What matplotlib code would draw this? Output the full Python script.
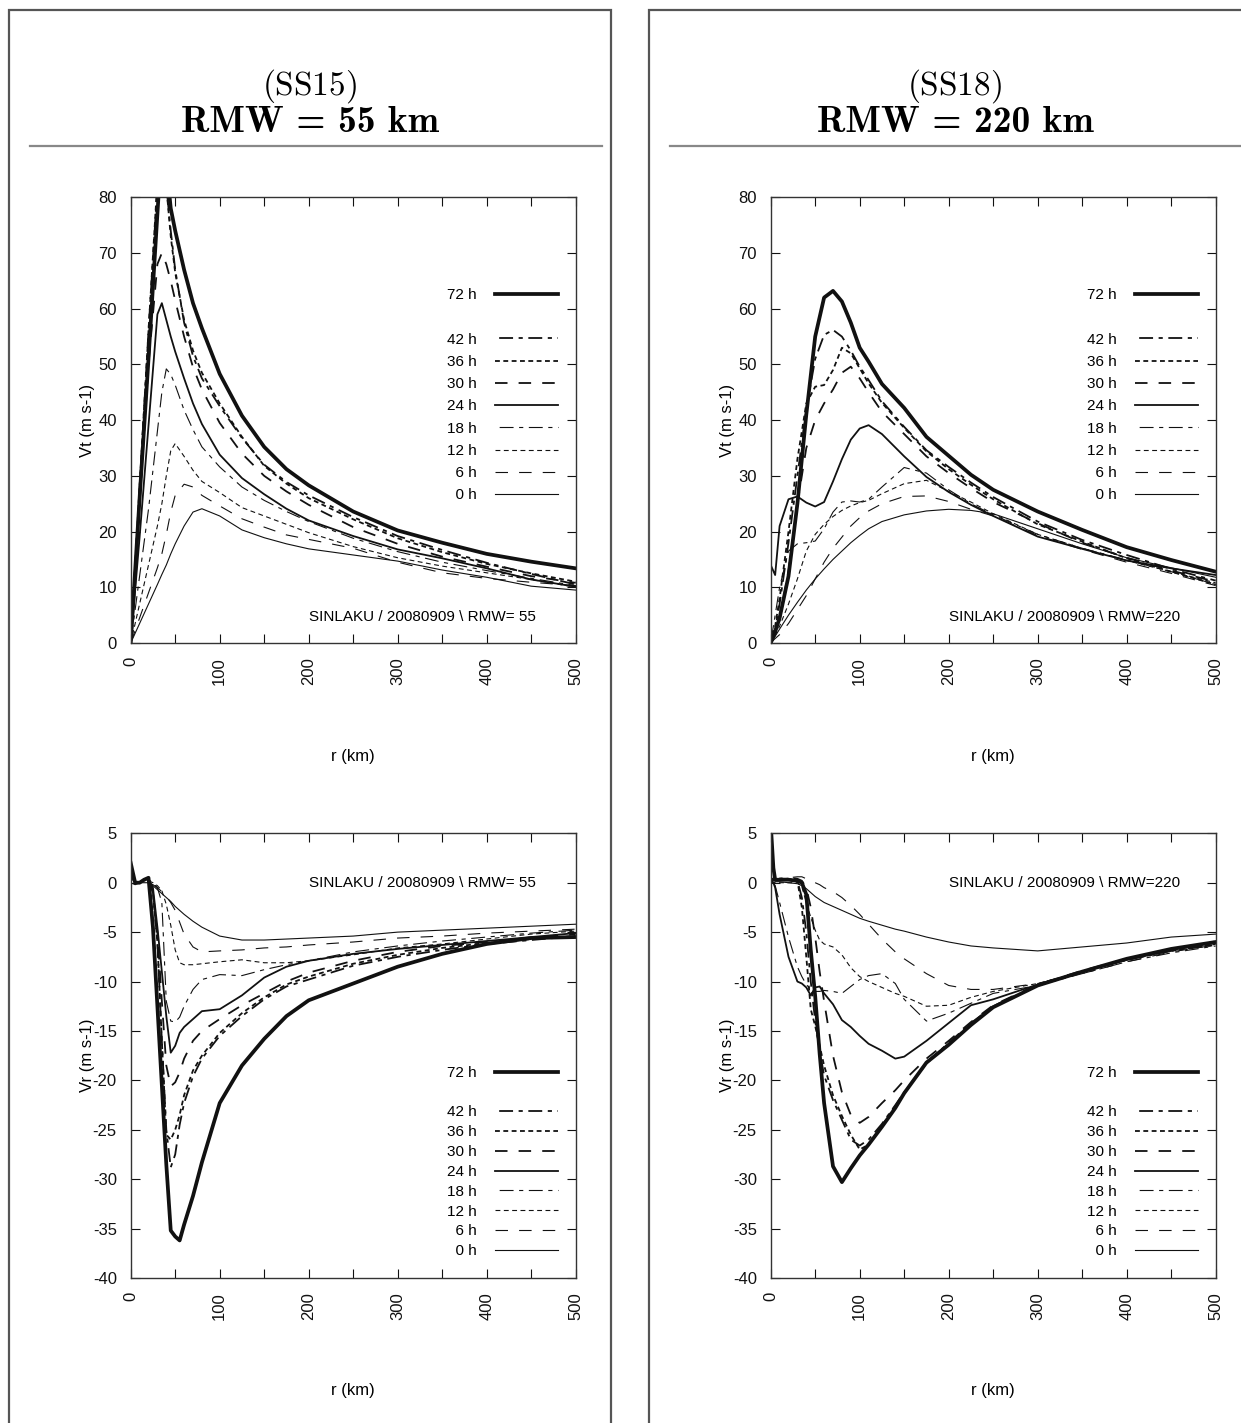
import matplotlib
matplotlib.use('Agg')
import matplotlib.pyplot as plt
from matplotlib.lines import Line2D
from matplotlib.patches import Rectangle

plt.rcParams['font.family'] = ['Liberation Sans', 'DejaVu Sans']
plt.rcParams['mathtext.fontset'] = 'cm'
plt.rcParams['lines.scale_dashes'] = False
plt.rcParams['axes.unicode_minus'] = False

# ---- data ----
hours = ['72', '42', '36', '30', '24', '18', '12', '6', '0']
xtick_vals = [0, 50, 100, 150, 200, 250, 300, 350, 400, 450, 500]
xtick_labels = ['0', '', '100', '', '200', '', '300', '', '400', '', '500']

# SS15, Vt
r_vt15 = [0, 10, 20, 30, 35, 40, 45, 50, 60, 70, 80, 100, 125, 150, 175, 200, 250, 300, 350, 400, 450, 500]
vt15_72 = [0, 26, 51, 77, 90, 86, 78, 74, 67, 61, 56.5, 48.3, 40.8, 35.2, 31.2, 28.3, 23.6, 20.2, 18.0, 16.0, 14.6, 13.4]
vt15_42 = [0, 28, 56, 82, 90, 82, 74, 67, 57.5, 51.5, 47.5, 42.5, 36.8, 32.0, 28.9, 26.5, 22.6, 19.2, 16.7, 14.4, 12.4, 10.5]
vt15_36 = [0, 28, 56, 83, 92, 82, 73, 66.5, 58, 52.5, 48.5, 43, 37, 31.8, 28.6, 26.0, 22.2, 18.8, 16.3, 14.2, 12.5, 11.0]
vt15_30 = [0, 25, 50, 68, 70, 68, 65, 61.5, 55, 49.5, 45.5, 39.5, 34, 30, 27.2, 24.8, 20.8, 17.8, 15.5, 13.7, 12.0, 10.8]
vt15_24 = [0, 19, 39, 59, 61, 58, 55, 52.3, 47.5, 43, 39.3, 33.8, 29.6, 26.7, 24.1, 22.0, 19.2, 16.8, 15.2, 13.4, 11.4, 10.1]
vt15_18 = [0, 12, 24, 38, 45, 49.2, 48.2, 46.3, 41.8, 38.3, 35.2, 31.6, 28.0, 25.6, 23.6, 21.8, 18.8, 16.4, 14.5, 13.0, 11.6, 10.3]
vt15_12 = [0, 7, 14, 21, 25, 30, 34.5, 35.8, 33.5, 31, 29, 27, 24.3, 22.8, 21.3, 19.8, 17.3, 15.3, 13.8, 12.6, 11.4, 10.0]
vt15_06 = [0, 4.5, 9, 13.5, 16, 19.5, 23.5, 26.5, 28.5, 28, 26.5, 24.6, 22.3, 20.8, 19.4, 18.6, 17.0, 14.5, 12.6, 11.6, 10.9, 10.3]
vt15_00 = [0, 3.5, 7, 10.5, 12.3, 14, 16, 17.8, 21, 23.5, 24.1, 22.8, 20.3, 18.9, 17.8, 16.9, 15.8, 14.7, 13.1, 11.8, 10.2, 9.5]

# SS18, Vt
r_vt18 = [0, 5, 10, 20, 30, 40, 50, 60, 70, 80, 90, 100, 110, 125, 150, 175, 200, 225, 250, 300, 350, 400, 450, 500]
vt18_72 = [0, 2, 4.5, 12, 25, 41, 55, 62, 63.2, 61.3, 57.5, 53, 50.5, 46.5, 42.2, 37, 33.6, 30.2, 27.5, 23.6, 20.3, 17.2, 14.9, 12.8]
vt18_42 = [0, 2.5, 7, 18, 30, 42, 51, 55.3, 56.2, 55, 52.5, 49.6, 47.2, 43.4, 38.8, 34.6, 31.6, 28.8, 26.2, 21.8, 18.5, 15.8, 13.3, 11.2]
vt18_36 = [0, 3, 8, 20, 33, 43, 46, 46.3, 49, 53, 52, 49.3, 46.6, 43.1, 38.6, 34.4, 31.2, 28.4, 25.8, 21.3, 18.2, 15.2, 12.8, 10.5]
vt18_30 = [0, 1.5, 4, 13, 25, 35, 40, 43, 45.5, 48.5, 49.6, 47.5, 45, 41.5, 37.5, 33.5, 30.5, 27.8, 25.3, 21.5, 18.0, 15.3, 13.0, 11.0]
vt18_24 = [14, 12.2, 21, 25.8, 26.3, 25.2, 24.5, 25.3, 29, 33, 36.5, 38.5, 39.1, 37.5, 33.5, 29.8, 27.1, 24.8, 22.8, 19.1, 16.9, 14.8, 13.4, 12.2]
vt18_18 = [0, 5, 10, 16.5, 17.8, 18, 18.3, 20.5, 23.5, 25.3, 25.5, 25.3, 25.8, 28, 31.5, 30.5, 27.5, 25, 23, 19.5, 17, 14.9, 12.8, 10.5]
vt18_12 = [0, 1.5, 3, 7, 11.5, 16.5, 19.5, 21.3, 22.7, 23.8, 24.6, 25.2, 25.6, 26.8, 28.6, 29.2, 27.2, 25.3, 23.2, 19.5, 17.0, 14.8, 12.8, 10.8]
vt18_06 = [0, 0.8, 1.5, 3.5, 6, 8.5, 11.5, 14.5, 17, 19, 21, 22.5, 23.7, 25, 26.3, 26.4, 25.4, 24, 22.8, 19.3, 16.8, 14.5, 12.5, 10.3]
vt18_00 = [0, 1.2, 2.5, 5, 7.3, 9.5, 11.5, 13.3, 15, 16.5, 18, 19.3, 20.5, 21.8, 23, 23.7, 24, 23.8, 23.2, 20.5, 17.8, 15.3, 13.5, 11.8]

# SS15, Vr
r_vr15 = [0, 5, 10, 15, 20, 25, 30, 35, 40, 45, 50, 55, 60, 70, 80, 100, 125, 150, 175, 200, 250, 300, 350, 400, 450, 500]
vr15_72 = [2, 0, 0, 0.3, 0.5, -4.5, -12.5, -20.5, -28.5, -35.2, -35.8, -36.2, -34.6, -31.7, -28.3, -22.3, -18.5, -15.8, -13.5, -11.9, -10.2, -8.5, -7.2, -6.2, -5.6, -5.5]
vr15_42 = [1, 0, 0, 0.3, 0.4, -1, -6, -16, -25, -28.8, -27.5, -24.5, -22.3, -19.6, -17.8, -15.5, -13.5, -11.8, -10.5, -9.8, -8.4, -7.5, -6.8, -6.2, -5.8, -5.4]
vr15_36 = [1, 0, 0, 0.3, 0.4, -1, -6, -16, -25.5, -26, -25, -23.5, -21.5, -19, -17.5, -15.2, -13.2, -11.6, -10.3, -9.5, -8.2, -7.3, -6.6, -6.1, -5.7, -5.4]
vr15_30 = [1, 0, 0, 0.3, 0.4, -1, -5, -12, -18.5, -20.6, -20.2, -19.2, -17.8, -16.0, -15.0, -13.8, -12.4, -11.2, -10.0, -9.1, -7.9, -7.0, -6.4, -6.0, -5.6, -5.2]
vr15_24 = [1.5, 0, 0, 0.3, 0.4, -0.5, -4.5, -9, -13.5, -17.2, -16.5, -15.2, -14.6, -13.8, -13.0, -12.8, -11.4, -9.6, -8.5, -7.9, -7.2, -6.7, -6.3, -5.9, -5.5, -5.1]
vr15_18 = [1, 0, 0, 0.2, 0.3, 0, -0.5, -2, -12, -14, -14.1, -13.6, -12.5, -10.8, -9.8, -9.3, -9.4, -8.8, -8.3, -7.9, -7.0, -6.4, -5.9, -5.5, -5.1, -4.8]
vr15_12 = [1, 0, 0, 0.2, 0.2, 0, -0.3, -0.8, -2.2, -4.3, -6.8, -8.1, -8.3, -8.3, -8.2, -8.0, -7.8, -8.1, -8.1, -7.9, -7.3, -6.6, -6.2, -5.7, -5.2, -4.9]
vr15_06 = [0.5, 0, 0, 0.2, 0, -0.2, -0.5, -0.9, -1.4, -2.0, -2.8, -4.0, -5.2, -6.5, -7.0, -6.9, -6.8, -6.6, -6.5, -6.3, -6.0, -5.6, -5.4, -5.1, -4.9, -4.7]
vr15_00 = [0, -0.2, 0, 0, 0, -0.3, -0.7, -1.1, -1.5, -1.9, -2.4, -2.8, -3.2, -3.9, -4.5, -5.4, -5.8, -5.8, -5.7, -5.6, -5.4, -5.0, -4.8, -4.6, -4.4, -4.2]

# SS18, Vr
r_vr18 = [0, 3, 5, 10, 20, 30, 35, 40, 45, 50, 55, 60, 70, 80, 90, 100, 110, 125, 140, 150, 175, 200, 225, 250, 300, 350, 400, 450, 500]
vr18_72 = [6, 1.5, 0.3, 0.3, 0.3, 0.2, 0, -1.2, -6.8, -11.5, -17.3, -22.3, -28.7, -30.3, -28.9, -27.6, -26.5, -24.7, -22.8, -21.3, -18.2, -16.4, -14.4, -12.6, -10.4, -9.0, -7.7, -6.7, -6.0]
vr18_42 = [0.5, 0.3, 0.3, 0.4, 0.4, 0.2, -1.5, -5, -10, -14, -17, -19.5, -22, -24, -26, -26.6, -26, -24.4, -22.5, -21.2, -18.2, -16.2, -14.2, -12.5, -10.4, -9.0, -7.8, -6.9, -6.3]
vr18_36 = [0.5, 0.3, 0.3, 0.4, 0.4, 0.2, -2.5, -7.5, -12.8, -14.5, -16.5, -18.5, -21.5, -23.6, -25.5, -27.0, -26.5, -24.6, -22.6, -21.3, -18.3, -16.3, -14.3, -12.5, -10.4, -9.0, -7.8, -6.9, -6.2]
vr18_30 = [0.5, 0.3, 0.3, 0.4, 0.5, 0.4, 0.2, -0.5, -2.5, -5.5, -9, -12, -17.5, -21.2, -23.5, -24.3, -23.7, -22.3, -21.0, -20.0, -17.8, -16.0, -14.1, -12.4, -10.3, -8.9, -7.7, -6.8, -6.1]
vr18_24 = [0.5, 0, -0.5, -3.2, -7.5, -10, -10.2, -10.6, -11.4, -10.6, -10.5, -11.2, -12.3, -13.9, -14.6, -15.5, -16.3, -17.0, -17.8, -17.6, -16.0, -14.2, -12.4, -11.8, -10.3, -9.0, -7.8, -6.8, -6.0]
vr18_18 = [0, 0, -0.3, -2, -5.5, -8.5, -9.5, -10.3, -10.8, -11, -11, -10.9, -11, -11.2, -10.5, -9.8, -9.4, -9.2, -10.2, -11.8, -14.0, -13.2, -12.2, -11.2, -10.4, -9.2, -8.0, -7.1, -6.4]
vr18_12 = [0, 0, 0, 0, 0, 0, -0.4, -2.0, -3.5, -4.8, -5.8, -6.2, -6.5, -7.3, -8.6, -9.5, -10.0, -10.6, -11.2, -11.5, -12.5, -12.4, -11.6, -11.0, -10.2, -9.0, -7.8, -6.8, -5.9]
vr18_06 = [0, 0.3, 0.3, 0.4, 0.5, 0.6, 0.6, 0.4, 0.2, 0, -0.2, -0.5, -0.9, -1.5, -2.3, -3.2, -4.2, -5.7, -7.0, -7.7, -9.2, -10.4, -10.8, -10.8, -10.2, -9.2, -8.0, -7.0, -6.3]
vr18_00 = [0, 0, 0.1, 0.1, 0, -0.1, -0.3, -0.6, -1.0, -1.4, -1.7, -2.0, -2.4, -2.8, -3.2, -3.6, -3.9, -4.3, -4.7, -4.9, -5.5, -6.0, -6.4, -6.6, -6.9, -6.5, -6.1, -5.5, -5.2]

# ---- line styles per forecast hour ----
thin, mid, thick = 0.8, 1.3, 2.7
long_dash = (0, (9, 8))
short_dash = (0, (3.5, 2.5))
dash_dot = (4, (3, 4, 10, 4))
style = {
    '0': ('-', thin), '6': (long_dash, thin), '12': (short_dash, thin), '18': (dash_dot, thin),
    '24': ('-', mid), '30': (long_dash, mid), '36': (short_dash, mid), '42': (dash_dot, mid),
    '72': ('-', thick),
}

W, H = 1241, 1423
fig = plt.figure(figsize=(W / 100, H / 100), dpi=100)


def px_axes(x0, y0, x1, y1):
    return fig.add_axes([x0 / W, 1 - y1 / H, (x1 - x0) / W, (y1 - y0) / H])


def panel(ax, r, series, ylim, ystep, ylabel, tag, tag_y, leg_top, leg_spacing):
    handles = {}
    for h, v in zip(hours, series):
        ls, lw = style[h]
        ln, = ax.plot(r, v, color='#111111', linestyle=ls, linewidth=lw,
                      solid_joinstyle='round', dash_joinstyle='round')
        handles[h] = ln
    ax.set_xlim(0, 500)
    ax.set_ylim(*ylim)
    ax.set_xticks(xtick_vals)
    ax.set_xticklabels(xtick_labels, rotation=90)
    ax.set_yticks(range(ylim[0], ylim[1] + 1, ystep))
    ax.tick_params(direction='in', length=6.5, width=0.8, top=True, right=True,
                   labelsize=12, pad=10, colors='#111111')
    for s in ax.spines.values():
        s.set_linewidth(1.0)
        s.set_color('#333333')
    ax.set_xlabel('r (km)', fontsize=12)
    ax.set_ylabel(ylabel, fontsize=12)
    ax.xaxis.set_label_coords(0.5, -0.237)
    ax.yaxis.set_label_coords(-0.081, 0.5)
    ax.text(0.40, tag_y, tag, transform=ax.transAxes, fontsize=11, va='center', ha='left')

    blank = Line2D([], [], linestyle='none')
    hl = [handles['72'], blank] + [handles[h] for h in hours[1:]]
    labels = ['72 h', ''] + ['%s h' % h if len(h) == 2 else '\u2007%s h' % h for h in hours[1:]]
    ax.legend(hl, labels, loc='upper right', bbox_to_anchor=(0.96, leg_top), frameon=False,
              markerfirst=False, handlelength=4.13, handletextpad=1.18, borderpad=0,
              borderaxespad=0, labelspacing=leg_spacing, fontsize=11)


ax1 = px_axes(130.7, 197.3, 575.7, 643)
panel(ax1, r_vt15, [vt15_72, vt15_42, vt15_36, vt15_30, vt15_24, vt15_18, vt15_12, vt15_06, vt15_00],
      (0, 80), 10, 'Vt (m s-1)', 'SINLAKU / 20080909 \\ RMW= 55', 0.059, 0.796, 0.54)
ax2 = px_axes(770.7, 197.3, 1215.7, 643)
panel(ax2, r_vt18, [vt18_72, vt18_42, vt18_36, vt18_30, vt18_24, vt18_18, vt18_12, vt18_06, vt18_00],
      (0, 80), 10, 'Vt (m s-1)', 'SINLAKU / 20080909 \\ RMW=220', 0.059, 0.796, 0.54)
ax3 = px_axes(130.7, 833.3, 575.7, 1278)
panel(ax3, r_vr15, [vr15_72, vr15_42, vr15_36, vr15_30, vr15_24, vr15_18, vr15_12, vr15_06, vr15_00],
      (-40, 5), 5, 'Vr (m s-1)', 'SINLAKU / 20080909 \\ RMW= 55', 0.888, 0.477, 0.38)
ax4 = px_axes(770.7, 833.3, 1215.7, 1278)
panel(ax4, r_vr18, [vr18_72, vr18_42, vr18_36, vr18_30, vr18_24, vr18_18, vr18_12, vr18_06, vr18_00],
      (-40, 5), 5, 'Vr (m s-1)', 'SINLAKU / 20080909 \\ RMW=220', 0.888, 0.477, 0.38)

# panel frames, titles and rules
for x0, x1 in [(9, 611), (649, 1300)]:
    fig.add_artist(Rectangle((x0 / W, -0.05), (x1 - x0) / W, 1.05 - 10 / H,
                             transform=fig.transFigure, fill=False, ec='#555555', lw=1.6))
for xc, x0, x1, case, rmw in [(310, 30, 602, 'SS15', '55'), (955, 670, 1241, 'SS18', '220')]:
    fig.text(xc / W, 1 - 95 / H, r'$\mathrm{(%s)}$' % case, ha='center', va='baseline', fontsize=24)
    fig.text(xc / W, 1 - 132.5 / H, 'RMW = %s km' % rmw, family=['cmb10', 'DejaVu Serif'],
             ha='center', va='baseline', fontsize=27)
    fig.add_artist(Line2D([x0 / W, x1 / W], [1 - 146 / H, 1 - 146 / H], transform=fig.transFigure,
                          color='#888888', lw=1.6))

fig.savefig('out.png', dpi=100)
